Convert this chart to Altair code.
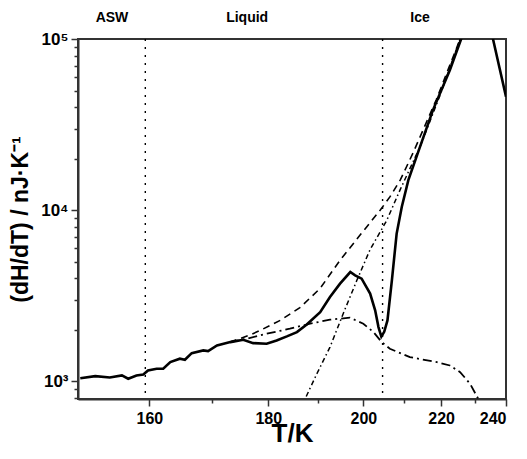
import altair as alt
import pandas as pd

# ---- data ----
solid_T = [150.3, 152.3, 154.3, 156.0, 156.9, 158.1, 159.1, 159.8, 161.1, 162.1, 163.2, 164.7, 165.5,
           166.6, 168.5, 169.3, 170.8, 173.1, 175.4, 177.2, 179.7, 181.6, 183.6, 185.6, 187.6, 190.4,
           192.5, 194.7, 197.0, 198.1, 199.6, 201.6, 202.8, 203.6, 204.3, 205.0, 205.8, 206.9, 208.1,
           209.4, 211.1, 213.4, 217.7, 222.5, 225.8, 227.5, 229.5, 231.5, 233.5, 235.7, 237.9, 240.0]
solid_V = [1045, 1074, 1055, 1084, 1037, 1084, 1099, 1160, 1186, 1186, 1297, 1358, 1339,
           1464, 1518, 1504, 1624, 1698, 1753, 1675, 1661, 1737, 1833, 1942, 2154, 2542,
           3112, 3727, 4357, 4168, 3986, 3258, 2602, 2077, 1830, 1950, 2273, 3896, 7306,
           10450, 14980, 20970, 38440, 65870, 100000, 120000, 145000, 160000, 145000, 100000, 67000, 46000]

dashed_T = [173.0, 174.8, 176.8, 178.5, 182.3, 186.2, 190.4, 194.7, 199.2, 204.0, 206.4, 209.0,
            212.3, 218.6, 225.5, 230.0]
dashed_V = [1700, 1780, 1880, 1987, 2273, 2698, 3498, 5100, 7141, 10000, 11960, 14980,
            21540, 44000, 100000, 150000]

dashdot_T = [173.0, 176.0, 179.7, 184.2, 188.3, 192.5, 196.9, 200.0, 202.4, 204.4, 206.4,
             211.5, 218.8, 222.5, 225.5, 228.5, 231.0, 232.0]
dashdot_V = [1698, 1777, 1901, 2033, 2175, 2295, 2358, 2175, 1942, 1698, 1553,
             1387, 1297, 1240, 1133, 970, 792, 700]

ice_T = [186.5, 187.2, 189.7, 192.5, 195.4, 198.5, 201.6, 205.6, 209.0, 214.2, 219.7, 225.5, 230.0]
ice_V = [700, 785, 1109, 1587, 2488, 3896, 5900, 8700, 13200, 23500, 47000, 100000, 150000]

region_T = [159.4, 204.6]
label_T = [154.6, 176.1, 214.2]
label_text = ["ASW", "Liquid", "Ice"]

x_major = [160, 180, 200, 220, 240]
x_minor = [170, 190, 210, 230]
y_major = [1000, 10000, 100000]
y_minor = [800, 900, 2000, 3000, 4000, 5000, 6000, 7000, 8000, 9000,
           20000, 30000, 40000, 50000, 60000, 70000, 80000, 90000]

FONT = "Liberation Sans"


def xscale():
    return alt.Scale(type="pow", exponent=-1, domain=[150, 240], zero=False, nice=False)


def yscale():
    return alt.Scale(type="log", domain=[790, 100000], nice=False)


solid_df = pd.DataFrame({"T": solid_T, "V": solid_V})
dashed_df = pd.DataFrame({"T": dashed_T, "V": dashed_V})
dashdot_df = pd.DataFrame({"T": dashdot_T, "V": dashdot_V})
ice_df = pd.DataFrame({"T": ice_T, "V": ice_V})
region_df = pd.DataFrame({"T": region_T})
label_df = pd.DataFrame({"T": label_T, "text": label_text})

x_main_axis = alt.Axis(values=x_major, format="d", title="T/K", orient="bottom",
                       labelFont=FONT, labelFontSize=16, labelFontWeight="bold", labelColor="black",
                       labelPadding=4, ticks=True, tickSize=7, tickWidth=1.5, tickColor="#333",
                       domainColor="#333", domainWidth=2, grid=False, zindex=1,
                       titleFont=FONT, titleFontSize=26, titleFontWeight="bold", titleColor="black",
                       titlePadding=-6)
y_main_axis = alt.Axis(values=y_major, orient="left",
                       labelExpr="datum.value == 1000 ? '10³' : datum.value == 10000 ? '10⁴' : '10⁵'",
                       title="(dH/dT) / nJ·K⁻¹",
                       labelFont=FONT, labelFontSize=17, labelFontWeight="bold", labelColor="black",
                       labelPadding=3, ticks=True, tickSize=7, tickWidth=1.5, tickColor="#333",
                       domainColor="#333", domainWidth=2, grid=False, zindex=1,
                       titleFont=FONT, titleFontSize=23, titleFontWeight="bold", titleColor="black",
                       titlePadding=8)
x_minor_axis = alt.Axis(values=x_minor, orient="bottom", labels=False, title=None, domain=False,
                        ticks=True, tickSize=4, tickWidth=1.5, tickColor="#333", grid=False, zindex=1)
y_minor_axis = alt.Axis(values=y_minor, orient="left", labels=False, title=None, domain=False,
                        ticks=True, tickSize=4, tickWidth=1.5, tickColor="#333", grid=False, zindex=1)

solid = alt.Chart(solid_df).mark_line(color="black", strokeWidth=2.6, clip=True).encode(
    x=alt.X("T:Q", scale=xscale(), axis=x_main_axis),
    y=alt.Y("V:Q", scale=yscale(), axis=y_main_axis),
)
dashed = alt.Chart(dashed_df).mark_line(color="black", strokeWidth=1.6, strokeDash=[7, 5], clip=True).encode(
    x=alt.X("T:Q", scale=xscale(), axis=x_minor_axis),
    y=alt.Y("V:Q", scale=yscale(), axis=y_minor_axis),
)
dashdot = alt.Chart(dashdot_df).mark_line(color="black", strokeWidth=1.8, strokeDash=[9, 4, 2, 4], clip=True).encode(
    x=alt.X("T:Q", scale=xscale(), axis=None),
    y=alt.Y("V:Q", scale=yscale(), axis=None),
)
ice = alt.Chart(ice_df).mark_line(color="black", strokeWidth=1.5, strokeDash=[5, 3, 1.5, 3], clip=True).encode(
    x=alt.X("T:Q", scale=xscale(), axis=None),
    y=alt.Y("V:Q", scale=yscale(), axis=None),
)
regions = alt.Chart(region_df).mark_rule(color="black", strokeWidth=1.4, strokeDash=[2, 6]).encode(
    x=alt.X("T:Q", scale=xscale(), axis=None),
)
labels = alt.Chart(label_df).mark_text(font=FONT, fontSize=14, fontWeight="bold", color="black",
                                       baseline="middle", align="center").encode(
    x=alt.X("T:Q", scale=xscale(), axis=None),
    y=alt.value(-21),
    text="text:N",
)

chart = alt.layer(solid, dashed, dashdot, ice, regions, labels).resolve_scale(
    x="independent", y="independent"
).resolve_axis(
    x="independent", y="independent"
).properties(
    width=428, height=360,
    padding={"left": 78, "top": 39, "right": 21, "bottom": 60},
    autosize=alt.AutoSizeParams(type="none"),
    background="white",
).configure_view(stroke="#333", strokeWidth=2).configure_axis(ticks=True)

chart.save("out.html", embed_options={"renderer": "svg", "actions": False})
